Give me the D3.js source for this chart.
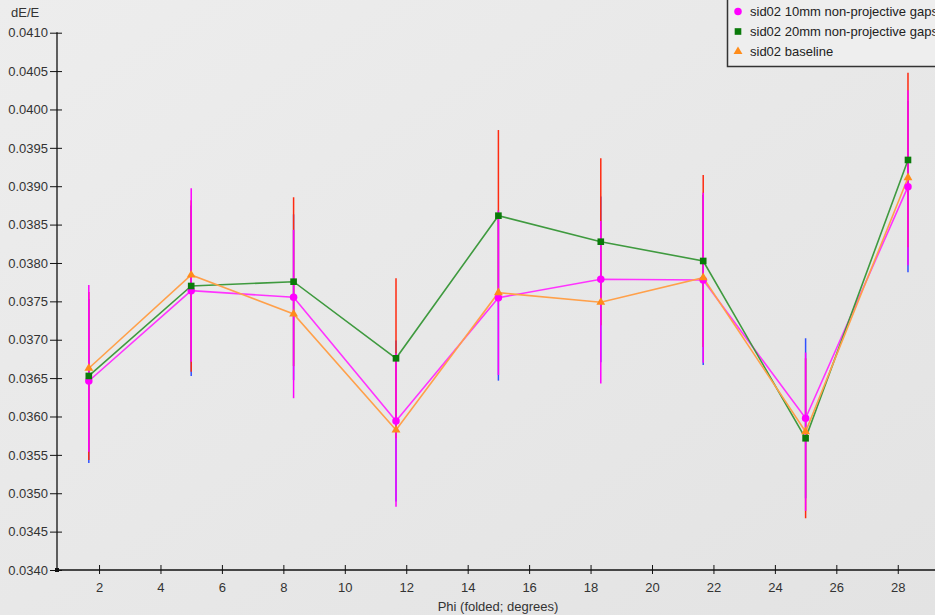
<!DOCTYPE html>
<html>
<head>
<meta charset="utf-8">
<script src="https://cdn.jsdelivr.net/npm/d3@7"></script>
<style>
  html, body { margin: 0; padding: 0; background: #e6e6e6; overflow: hidden; }
  svg { display: block; font-family: "Liberation Sans", Arial, sans-serif; }
</style>
</head>
<body>
<svg id="chart" width="935" height="615"></svg>
<script>
// ---- data ----
const phi = [1.667, 5.0, 8.333, 11.667, 15.0, 18.333, 21.667, 25.0, 28.333];
const seriesNames = ["sid02 10mm non-projective gaps", "sid02 20mm non-projective gaps", "sid02 baseline"];
const gap10 = [0.036462, 0.037639, 0.037553, 0.035941, 0.037548, 0.037787, 0.037778, 0.035977, 0.038994];
const gap20 = [0.036528, 0.037700, 0.037756, 0.036758, 0.038616, 0.038277, 0.038026, 0.035716, 0.039342];
const baseline = [0.036628, 0.037843, 0.037335, 0.035824, 0.037613, 0.037488, 0.037808, 0.035802, 0.039111];
const gap10Err = [0.001068, 0.001111, 0.001080, 0.001050, 0.001081, 0.001080, 0.001107, 0.001042, 0.001115];
const gap20Err = [0.001094, 0.001117, 0.001100, 0.001042, 0.001116, 0.001087, 0.001120, 0.001042, 0.001137];
const baselineErr = [0.001086, 0.001130, 0.001097, 0.000999, 0.001072, 0.001059, 0.001107, 0.001031, 0.001140];
const xTicks = [2, 4, 6, 8, 10, 12, 14, 16, 18, 20, 22, 24, 26, 28];
const yTicks = [0.0340, 0.0345, 0.0350, 0.0355, 0.0360, 0.0365, 0.0370, 0.0375, 0.0380, 0.0385, 0.0390, 0.0395, 0.0400, 0.0405, 0.0410];

// ---- layout ----
const W = 935, H = 615;
const axisX = 57, axisY = 570;
const svg = d3.select("#chart");

const defs = svg.append("defs");
const grad = defs.append("linearGradient").attr("id", "bg").attr("x1", 0).attr("y1", 0).attr("x2", 1).attr("y2", 1);
grad.append("stop").attr("offset", "0%").attr("stop-color", "#ededed");
grad.append("stop").attr("offset", "100%").attr("stop-color", "#e3e3e3");
svg.append("rect").attr("width", W).attr("height", H).attr("fill", "url(#bg)");

const x = d3.scaleLinear().domain([0, 30]).range([37.6, 959.2]);
const y = d3.scaleLinear().domain([0.034, 0.041]).range([570, 32.7]);

// ---- axes ----
const axisColor = "#111";
const textColor = "#333";

// Y axis
const yAxis = svg.append("g").attr("transform", `translate(${axisX},0)`)
  .call(d3.axisLeft(y).tickValues(yTicks).tickFormat(d3.format(".4f")).tickSize(7).tickPadding(2));
yAxis.select(".domain").remove();
yAxis.selectAll(".tick line").attr("stroke", axisColor).attr("x2", 5).attr("x1", -7);
yAxis.selectAll(".tick text").attr("font-size", 13).attr("fill", textColor)
  .attr("font-family", "Liberation Sans, Arial, sans-serif");
svg.append("line").attr("x1", axisX).attr("x2", axisX).attr("y1", y(0.041) - 0.5).attr("y2", axisY)
  .attr("stroke", axisColor).attr("stroke-width", 1.3);

// X axis
const xAxis = svg.append("g").attr("transform", `translate(0,${axisY})`)
  .call(d3.axisBottom(x).tickValues(xTicks).tickFormat(d3.format("d")).tickSize(4).tickPadding(9));
xAxis.select(".domain").remove();
xAxis.selectAll(".tick line").attr("stroke", axisColor).attr("y1", -5).attr("y2", 4);
xAxis.selectAll(".tick text").attr("font-size", 13).attr("fill", textColor)
  .attr("font-family", "Liberation Sans, Arial, sans-serif");
svg.append("line").attr("x1", axisX).attr("x2", W).attr("y1", axisY).attr("y2", axisY)
  .attr("stroke", axisColor).attr("stroke-width", 1.3);
svg.append("rect").attr("x", axisX - 2).attr("y", axisY - 2).attr("width", 4).attr("height", 4).attr("fill", axisColor);

// Axis titles
svg.append("text").attr("x", 11).attr("y", 17).attr("font-size", 13).attr("fill", textColor).text("dE/E");
svg.append("text").attr("x", 498).attr("y", 611).attr("text-anchor", "middle")
  .attr("font-size", 13).attr("fill", textColor).text("Phi (folded; degrees)");

// ---- error bars (blue, red, magenta drawn in order) ----
const errSets = [
  { vals: gap10, errs: gap10Err, color: "#3050ff" },
  { vals: gap20, errs: gap20Err, color: "#ff2a10" },
  { vals: baseline, errs: baselineErr, color: "#ff00ff" }
];
errSets.forEach(s => {
  svg.append("g").selectAll("line").data(phi).join("line")
    .attr("x1", (d) => x(d)).attr("x2", (d) => x(d))
    .attr("y1", (d, i) => y(s.vals[i] + s.errs[i]))
    .attr("y2", (d, i) => y(s.vals[i] - s.errs[i]))
    .attr("stroke", s.color).attr("stroke-width", 1.5);
});

// ---- series lines & markers ----
const series = [
  { vals: gap10, line: "#ff33ff", fill: "#ff00ff", shape: "circle" },
  { vals: gap20, line: "#3f9a3f", fill: "#0a7a0a", shape: "square" },
  { vals: baseline, line: "#ffa04a", fill: "#ff8c1a", shape: "triangle" }
];
const lineGen = d3.line().x((d) => x(d[0])).y((d) => y(d[1]));
series.forEach(s => {
  svg.append("path").datum(phi.map((p, i) => [p, s.vals[i]]))
    .attr("d", lineGen).attr("fill", "none").attr("stroke", s.line).attr("stroke-width", 1.6);
});

const sym = {
  circle: d3.symbol().type(d3.symbolCircle).size(44),
  square: d3.symbol().type(d3.symbolSquare).size(44),
  triangle: d3.symbol().type(d3.symbolTriangle).size(34)
};
series.forEach(s => {
  svg.append("g").selectAll("path").data(phi).join("path")
    .attr("transform", (d, i) => `translate(${x(d)},${y(s.vals[i])})`)
    .attr("d", sym[s.shape]).attr("fill", s.fill);
});

// ---- legend ----
const lg = svg.append("g");
lg.append("rect").attr("x", 727.5).attr("y", -2).attr("width", 260).attr("height", 68.5)
  .attr("fill", "#eeeeee").attr("stroke", "#333").attr("stroke-width", 1.5);
seriesNames.forEach((name, i) => {
  const cy = 11.5 + i * 20;
  lg.append("path").attr("transform", `translate(738,${cy})`).attr("d", sym[series[i].shape]).attr("fill", series[i].fill);
  lg.append("text").attr("x", 750).attr("y", cy + 4.5).attr("font-size", 13).attr("fill", "#222").text(name);
});
</script>
</body>
</html>
